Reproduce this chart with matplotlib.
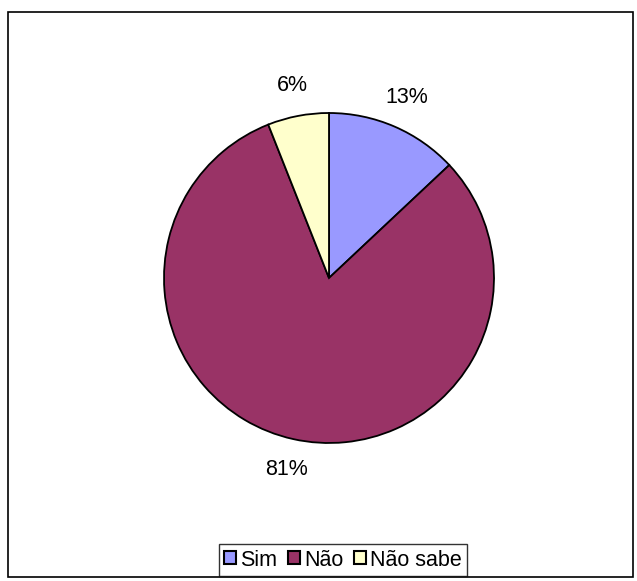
import matplotlib.pyplot as plt
from matplotlib.patches import Rectangle

# Answer shares
categories = ['Sim', 'Não', 'Não sabe']
shares = [13, 81, 6]
colors = ['#9999FF', '#993366', '#FFFFCC']

plt.rcParams['font.family'] = ['Liberation Sans', 'DejaVu Sans']

W, H = 637, 581
fig = plt.figure(figsize=(W / 100, H / 100), dpi=100)

# outer frame of the chart area
fig.patches.append(Rectangle((8 / W, 4 / H), 625 / W, 565 / H, transform=fig.transFigure,
                             fill=False, edgecolor='black', linewidth=1.2))

# pie centred at (329, 278) px, radius 165 px
cx, cy, r = 329, 278, 165
ax = fig.add_axes([(cx - r) / W, (H - cy - r) / H, 2 * r / W, 2 * r / H])
wedges, texts = ax.pie(shares, colors=colors, startangle=90, counterclock=False,
                       labels=[f'{v}%' for v in shares], labeldistance=1.19,
                       wedgeprops=dict(edgecolor='black', linewidth=1.3),
                       textprops=dict(fontsize=15.5))
for t in texts:
    t.set_horizontalalignment('center')
    t.set_verticalalignment('center')
ax.set_xlim(-1, 1)
ax.set_ylim(-1, 1)
ax.set_aspect('equal')
ax.axis('off')

leg = fig.legend(wedges, categories, loc='center', bbox_to_anchor=(343 / W, (H - 560) / H),
                 ncol=3, fontsize=15.5, frameon=True, fancybox=False, edgecolor='black',
                 handlelength=0.55, handleheight=0.55, handletextpad=0.2, columnspacing=0.5,
                 borderpad=0.25, borderaxespad=0)
leg.get_frame().set_linewidth(1.0)
for h in leg.legend_handles:
    h.set_linewidth(1.5)

fig.savefig('out.png', dpi=100)
